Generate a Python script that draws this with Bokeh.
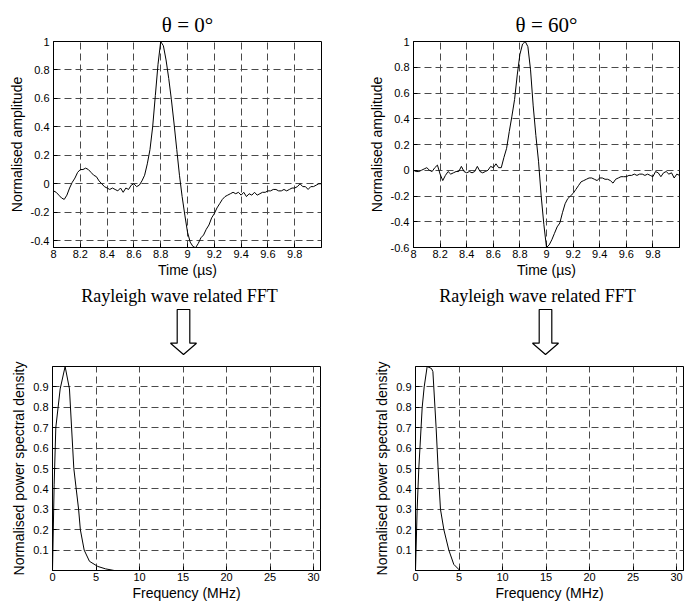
import numpy as np
from bokeh.plotting import figure
from bokeh.layouts import column, row
from bokeh.models import Range1d, FixedTicker
from bokeh.embed import file_html
from bokeh.resources import INLINE
from bokeh.core.properties import value

# ---------------- data ----------------
time_start_us = 8.0
time_step_us = 0.02

amp_theta0 = [
    -0.05, -0.06, -0.08, -0.10, -0.11, -0.08, -0.03, 0.01, 0.04, 0.08,
    0.10, 0.10, 0.11, 0.10, 0.08, 0.06, 0.05, 0.02, 0.00, -0.02,
    -0.03, -0.04, -0.03, -0.04, -0.05, -0.03, -0.06, -0.03, -0.04, -0.01,
    0.00, -0.02, -0.01, 0.02, 0.06, 0.14, 0.24, 0.40, 0.62, 0.84,
    1.00, 0.97, 0.87, 0.74, 0.59, 0.42, 0.24, 0.06, -0.09, -0.22,
    -0.34, -0.41, -0.44, -0.45, -0.42, -0.38, -0.36, -0.32, -0.29, -0.24,
    -0.21, -0.17, -0.14, -0.11, -0.09, -0.08, -0.07, -0.06, -0.07, -0.06,
    -0.08, -0.06, -0.09, -0.07, -0.08, -0.06, -0.08, -0.07, -0.06, -0.06,
    -0.05, -0.05, -0.04, -0.04, -0.05, -0.05, -0.04, -0.05, -0.04, -0.03,
    -0.03, -0.02, 0.00, -0.02, -0.02, -0.04, -0.02, -0.02, -0.01, 0.00,
    0.00,
]

amp_theta60 = [
    0.00, -0.01, -0.01, 0.00, 0.01, 0.02, 0.00, -0.01, 0.02, 0.04,
    -0.03, -0.08, -0.04, -0.01, -0.03, -0.02, -0.01, -0.01, 0.03, -0.01,
    -0.02, -0.01, -0.02, -0.01, 0.03, -0.01, -0.02, -0.01, 0.00, 0.03,
    0.02, 0.05, 0.02, 0.02, 0.10, 0.17, 0.30, 0.42, 0.55, 0.74,
    0.90, 0.98, 1.00, 0.96, 0.78, 0.50, 0.27, 0.07, -0.20, -0.42,
    -0.60, -0.58, -0.54, -0.49, -0.44, -0.41, -0.33, -0.26, -0.22, -0.20,
    -0.18, -0.15, -0.12, -0.09, -0.08, -0.07, -0.06, -0.06, -0.07, -0.08,
    -0.06, -0.06, -0.07, -0.07, -0.08, -0.10, -0.07, -0.06, -0.05, -0.05,
    -0.05, -0.04, -0.04, -0.03, -0.04, -0.03, -0.03, -0.04, -0.03, -0.04,
    -0.05, -0.01, -0.02, -0.05, -0.02, -0.01, -0.03, -0.02, -0.06, -0.03,
    -0.04,
]

freq_theta0 = [0.0, 0.19, 0.38, 0.88, 1.45, 1.95, 2.45, 3.0, 3.2, 3.64, 4.25, 5.2, 6.1, 7.1, 30.77]
psd_theta0 = [0.0, 0.42, 0.70, 0.89, 1.0, 0.89, 0.50, 0.30, 0.20, 0.10, 0.045, 0.02, 0.008, 0.0, 0.0]

freq_theta60 = [0.0, 0.19, 0.38, 0.77, 1.0, 1.34, 1.84, 2.0, 2.37, 2.6, 2.87, 3.26, 3.83, 4.4, 5.1, 30.77]
psd_theta60 = [0.0, 0.30, 0.50, 0.80, 0.90, 1.0, 0.99, 0.975, 0.70, 0.50, 0.30, 0.20, 0.10, 0.03, 0.0, 0.0]

time_ticks = [8, 8.2, 8.4, 8.6, 8.8, 9, 9.2, 9.4, 9.6, 9.8]
time_tick_labels = ["8", "8.2", "8.4", "8.6", "8.8", "9", "9.2", "9.4", "9.6", "9.8"]
amp0_ticks = [-0.4, -0.2, 0, 0.2, 0.4, 0.6, 0.8, 1]
amp0_tick_labels = ["-0.4", "-0.2", "0", "0.2", "0.4", "0.6", "0.8", "1"]
amp60_ticks = [-0.6, -0.4, -0.2, 0, 0.2, 0.4, 0.6, 0.8, 1]
amp60_tick_labels = ["-0.6", "-0.4", "-0.2", "0", "0.2", "0.4", "0.6", "0.8", "1"]
freq_ticks = [0, 5, 10, 15, 20, 25, 30]
freq_tick_labels = ["0", "5", "10", "15", "20", "25", "30"]
psd_ticks = [0.1, 0.2, 0.3, 0.4, 0.5, 0.6, 0.7, 0.8, 0.9]
psd_tick_labels = ["0.1", "0.2", "0.3", "0.4", "0.5", "0.6", "0.7", "0.8", "0.9"]

titles = ["\u03b8 = 0\u00b0", "\u03b8 = 60\u00b0"]
caption = "Rayleigh wave related FFT"
time_label = "Time (\u00b5s)"
amp_label = "Normalised amplitude"
freq_label = "Frequency (MHz)"
psd_label = "Normalised power spectral density"

time_us = [round(time_start_us + i * time_step_us, 2) for i in range(len(amp_theta0))]

SANS = "Liberation Sans"
SERIF = "Liberation Serif"


def make_plot(width, height, bl, br, bt, bb, xr, yr, xt, xtl, yt, ytl,
              xlabel, ylabel, xs, ys, title=None):
    p = figure(width=width, height=height,
               x_range=Range1d(*xr), y_range=Range1d(*yr),
               toolbar_location=None, output_backend="svg",
               min_border_left=bl, min_border_right=br,
               min_border_top=bt, min_border_bottom=bb)
    if title is not None:
        p.title.text = title
        p.title.align = "center"
        p.title.offset = -9
        p.title.text_font = SERIF
        p.title.text_font_size = "21px"
        p.title.text_font_style = "normal"
        p.title.text_color = "black"
        p.title.standoff = 10
    p.xaxis.ticker = FixedTicker(ticks=xt)
    p.xaxis.major_label_overrides = {k: v for k, v in zip(xt, xtl)}
    p.yaxis.ticker = FixedTicker(ticks=yt)
    p.yaxis.major_label_overrides = {k: v for k, v in zip(yt, ytl)}
    p.xgrid.ticker = FixedTicker(ticks=xt)
    p.ygrid.ticker = FixedTicker(ticks=yt)
    p.grid.grid_line_color = "#4a4a4a"
    p.grid.grid_line_dash = "7 4"
    p.grid.grid_line_width = 1
    p.axis.minor_tick_line_color = None
    p.axis.major_tick_in = 4
    p.axis.major_tick_out = 0
    p.axis.major_tick_line_color = "black"
    p.axis.axis_line_color = "black"
    p.axis.major_label_text_font = SANS
    p.axis.major_label_text_font_size = "11px"
    p.axis.major_label_text_color = "black"
    p.axis.axis_label_text_font = SANS
    p.axis.axis_label_text_font_size = "14px"
    p.axis.axis_label_text_font_style = "normal"
    p.axis.axis_label_text_color = "black"
    p.xaxis.major_label_standoff = 2
    p.xaxis.axis_label_standoff = 1
    p.yaxis.major_label_standoff = 4
    p.yaxis.axis_label_standoff = 3
    p.xaxis.axis_label = xlabel
    p.yaxis.axis_label = ylabel
    p.outline_line_color = "black"
    p.outline_line_width = 1
    p.outline_line_alpha = 1
    p.background_fill_color = "white"
    p.border_fill_color = "white"
    p.line(xs, ys, line_color="black", line_width=1)
    return p


def make_strip(width, height, cx_caption, cx_arrow):
    s = figure(width=width, height=height, x_range=Range1d(0, width),
               y_range=Range1d(height, 0), toolbar_location=None,
               output_backend="svg", x_axis_type=None, y_axis_type=None,
               min_border=0)
    s.grid.visible = False
    s.outline_line_color = None
    s.background_fill_color = "white"
    s.border_fill_color = "white"
    s.text(x=[cx_caption], y=[14], text=[caption], text_font=value(SERIF),
           text_font_size="18px", text_align="center",
           text_baseline="middle", text_color="black")
    half_shaft, half_head = 6.3, 13
    ax = [cx_arrow - half_shaft, cx_arrow + half_shaft, cx_arrow + half_shaft,
          cx_arrow + half_head, cx_arrow, cx_arrow - half_head,
          cx_arrow - half_shaft]
    ay = [28, 28, 61.7, 61.7, 73, 61.7, 61.7]
    s.patch(ax, ay, fill_color="white", line_color="black", line_width=1.2)
    return s


p1 = make_plot(345, 281, 53, 24, 41, 34, (8, 10), (-0.448, 1.0),
               time_ticks, time_tick_labels, amp0_ticks, amp0_tick_labels,
               time_label, amp_label, time_us, amp_theta0, title=titles[0])
p2 = make_plot(345, 281, 68, 11, 41, 34, (8, 10), (-0.6, 1.0),
               time_ticks, time_tick_labels, amp60_ticks, amp60_tick_labels,
               time_label, amp_label, time_us, amp_theta60, title=titles[1])

s1 = make_strip(345, 77, 179, 183)
s2 = make_strip(345, 77, 192, 200)

p3 = make_plot(345, 247, 52, 25, 8, 35, (0, 30.8), (0, 1.0),
               freq_ticks, freq_tick_labels, psd_ticks, psd_tick_labels,
               freq_label, psd_label, freq_theta0, psd_theta0)
p4 = make_plot(345, 247, 70, 7, 8, 35, (0, 30.8), (0, 1.0),
               freq_ticks, freq_tick_labels, psd_ticks, psd_tick_labels,
               freq_label, psd_label, freq_theta60, psd_theta60)

layout = column(row(p1, p2, spacing=0), row(s1, s2, spacing=0),
                row(p3, p4, spacing=0), spacing=0)

open("out.html", "w").write(file_html(layout, INLINE))
